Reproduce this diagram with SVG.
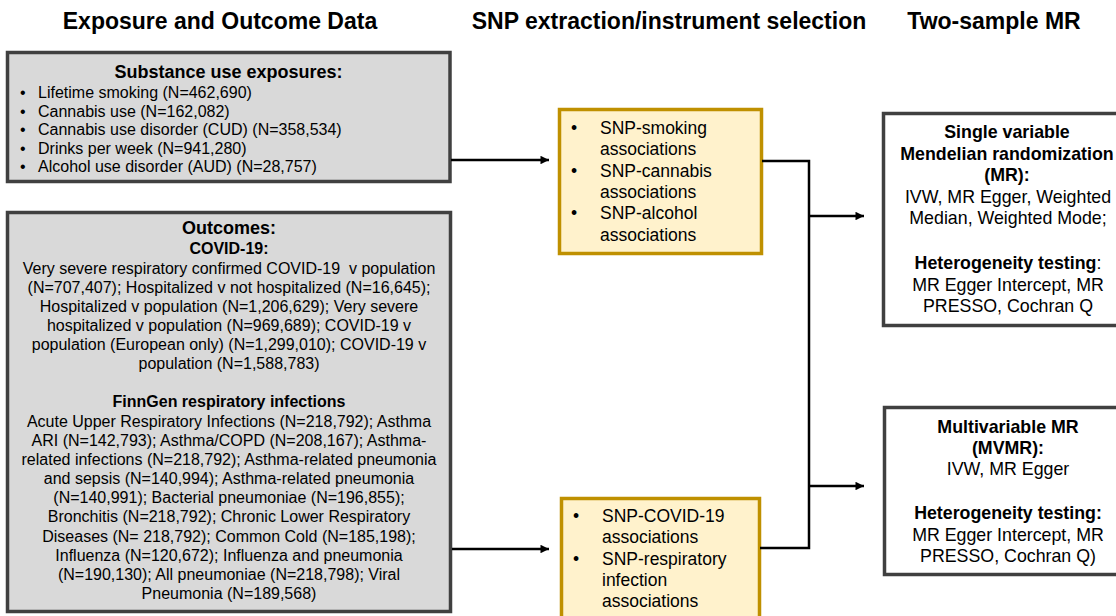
<svg xmlns="http://www.w3.org/2000/svg" width="1116" height="616" viewBox="0 0 1116 616">
<defs>
<style>
text{font-family:"Liberation Sans",Arial,sans-serif;fill:#000}
.title{font-size:23px;font-weight:bold;text-anchor:middle}
.hdr{font-size:18px;font-weight:bold;text-anchor:middle}
.sub{font-size:16px;font-weight:bold;text-anchor:middle}
.body{font-size:16px}
.c{text-anchor:middle}
.mid{font-size:17.5px}
.rb{font-size:17.8px;text-anchor:middle}
.b{font-weight:bold}
.grey{fill:#d9d9d9;stroke:#404040;stroke-width:3.5}
.gold{fill:#fff2cc;stroke:#bf9000;stroke-width:3.5}
.white{fill:#ffffff;stroke:#404040;stroke-width:3.5}
.conn{fill:none;stroke:#000;stroke-width:2.5}
</style>
<marker id="ah" viewBox="0 0 10 10" refX="10" refY="5" markerWidth="4" markerHeight="3.4" orient="auto" markerUnits="strokeWidth">
<path d="M0,0 L10,5 L0,10 z" fill="#000"/>
</marker>
</defs>

<g id="headings">
<text class="title" x="220" y="28.5">Exposure and Outcome Data</text>
<text class="title" x="669" y="28.5">SNP extraction/instrument selection</text>
<text class="title" x="994" y="28.5">Two-sample MR</text>
</g>

<g id="exposures">
<rect class="grey" x="7.5" y="52.5" width="442.5" height="129"/>
<text class="hdr" x="228.5" y="78">Substance use exposures:</text>
<g class="body">
<text x="20" y="98">•</text><text x="38" y="98">Lifetime smoking (N=462,690)</text>
<text x="20" y="116.5">•</text><text x="38" y="116.5">Cannabis use (N=162,082)</text>
<text x="20" y="135">•</text><text x="38" y="135">Cannabis use disorder (CUD) (N=358,534)</text>
<text x="20" y="153.5">•</text><text x="38" y="153.5">Drinks per week (N=941,280)</text>
<text x="20" y="172">•</text><text x="38" y="172">Alcohol use disorder (AUD) (N=28,757)</text>
</g>
</g>

<g id="outcomes">
<rect class="grey" x="7.5" y="212.5" width="443" height="399"/>
<text class="hdr" x="229" y="234">Outcomes:</text>
<text class="sub" x="229" y="254">COVID-19:</text>
<g class="body c">
<text x="229" y="274">Very severe respiratory confirmed COVID-19&#160; v population</text>
<text x="229" y="293">(N=707,407); Hospitalized v not hospitalized (N=16,645);</text>
<text x="229" y="312">Hospitalized v population (N=1,206,629); Very severe</text>
<text x="229" y="331">hospitalized v population (N=969,689); COVID-19 v</text>
<text x="229" y="350">population (European only) (N=1,299,010); COVID-19 v</text>
<text x="229" y="369">population (N=1,588,783)</text>
</g>
<text class="sub" x="229" y="407">FinnGen respiratory infections</text>
<g class="body c">
<text x="229" y="427">Acute Upper Respiratory Infections (N=218,792); Asthma</text>
<text x="229" y="446">ARI (N=142,793); Asthma/COPD (N=208,167); Asthma-</text>
<text x="229" y="465">related infections (N=218,792); Asthma-related pneumonia</text>
<text x="229" y="484">and sepsis (N=140,994); Asthma-related pneumonia</text>
<text x="229" y="503">(N=140,991); Bacterial pneumoniae (N=196,855);</text>
<text x="229" y="522">Bronchitis (N=218,792); Chronic Lower Respiratory</text>
<text x="229" y="542">Diseases (N= 218,792); Common Cold (N=185,198);</text>
<text x="229" y="561">Influenza (N=120,672); Influenza and pneumonia</text>
<text x="229" y="580">(N=190,130); All pneumoniae (N=218,798); Viral</text>
<text x="229" y="599">Pneumonia (N=189,568)</text>
</g>
</g>

<g id="snp-exposures">
<rect class="gold" x="559.5" y="109.5" width="202" height="144"/>
<g class="mid">
<text x="571" y="134">•</text><text x="600" y="134">SNP-smoking</text>
<text x="600" y="155">associations</text>
<text x="571" y="177">•</text><text x="600" y="177">SNP-cannabis</text>
<text x="600" y="198">associations</text>
<text x="571" y="219">•</text><text x="600" y="219">SNP-alcohol</text>
<text x="600" y="241">associations</text>
</g>
</g>

<g id="snp-outcomes">
<rect class="gold" x="561.5" y="498.5" width="198" height="130"/>
<g class="mid">
<text x="573" y="522">•</text><text x="602" y="522">SNP-COVID-19</text>
<text x="602" y="543">associations</text>
<text x="573" y="565">•</text><text x="602" y="565">SNP-respiratory</text>
<text x="602" y="586">infection</text>
<text x="602" y="607">associations</text>
</g>
</g>

<g id="single-mr">
<rect class="white" x="883.5" y="113.5" width="252" height="212"/>
<text class="rb b" x="1007" y="138">Single variable</text>
<text class="rb b" x="1007" y="160">Mendelian randomization</text>
<text class="rb b" x="1007" y="181">(MR):</text>
<text class="rb" x="1008" y="203">IVW, MR Egger, Weighted</text>
<text class="rb" x="1008" y="224">Median, Weighted Mode;</text>
<text class="rb" x="1008" y="269"><tspan class="b">Heterogeneity testing</tspan>:</text>
<text class="rb" x="1008" y="291">MR Egger Intercept, MR</text>
<text class="rb" x="1008" y="312">PRESSO, Cochran Q</text>
</g>

<g id="mvmr">
<rect class="white" x="884.5" y="407.5" width="252" height="167"/>
<text class="rb b" x="1008" y="433">Multivariable MR</text>
<text class="rb b" x="1008" y="454">(MVMR):</text>
<text class="rb" x="1008" y="475">IVW, MR Egger</text>
<text class="rb b" x="1008" y="519">Heterogeneity testing:</text>
<text class="rb" x="1008" y="541">MR Egger Intercept, MR</text>
<text class="rb" x="1008" y="562">PRESSO, Cochran Q)</text>
</g>

<g id="connectors">
<line class="conn" x1="451" y1="160" x2="549" y2="160" marker-end="url(#ah)"/>
<line class="conn" x1="452" y1="549" x2="549" y2="549" marker-end="url(#ah)"/>
<polyline class="conn" points="762,161 809,161 809,548 760,548"/>
<line class="conn" x1="809" y1="216" x2="864" y2="216" marker-end="url(#ah)"/>
<line class="conn" x1="809" y1="486" x2="864" y2="486" marker-end="url(#ah)"/>
</g>
</svg>
